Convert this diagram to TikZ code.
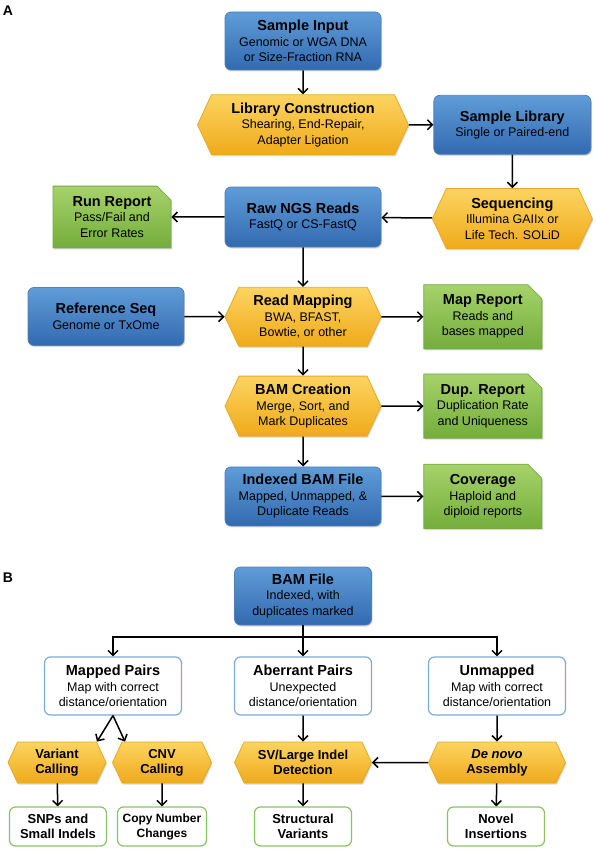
\documentclass[tikz,border=0pt]{standalone}
\usepackage{fontspec}
\setmainfont{Liberation Sans}
\usetikzlibrary{positioning,shapes.symbols,shapes.misc,arrows.meta,shadows}

\definecolor{bluetop}{RGB}{96,156,216}
\definecolor{bluebot}{RGB}{50,106,176}
\definecolor{blueline}{RGB}{78,128,188}
\definecolor{goldtop}{RGB}{252,212,96}
\definecolor{goldbot}{RGB}{240,170,26}
\definecolor{goldline}{RGB}{230,170,40}
\definecolor{greentop}{RGB}{166,210,106}
\definecolor{greenbot}{RGB}{116,174,60}
\definecolor{greenline}{RGB}{116,170,68}
\definecolor{paleblue}{RGB}{128,170,214}
\definecolor{palegreen}{RGB}{138,194,104}

\newcommand{\boxtitle}[1]{{\fontsize{14.5}{15.5}\selectfont\bfseries #1}}

\begin{document}
\begin{tikzpicture}[
	x=1pt, y=-1pt,
	datafile/.style={
		shape=rectangle,
		rounded corners=6pt,
		draw=blueline,
		line width=0.8pt,
		top color=bluetop,
		bottom color=bluebot,
		minimum width=156pt,
		minimum height=58pt,
		align=center,
		drop shadow={opacity=0.3, shadow xshift=1pt, shadow yshift=-1.5pt},
	},
	process/.style={
		shape=signal,
		signal to=east and west,
		signal pointer angle=130,
		draw=goldline,
		line width=0.8pt,
		top color=goldtop,
		bottom color=goldbot,
		minimum width=156pt,
		minimum height=60pt,
		align=center,
		drop shadow={opacity=0.3, shadow xshift=1pt, shadow yshift=-1.5pt},
	},
	smallproc/.style={
		process,
		minimum width=137pt,
		minimum height=41pt,
		font=\fontsize{13}{15}\selectfont\bfseries,
	},
	report/.style={
		shape=chamfered rectangle,
		chamfered rectangle corners=north east,
		chamfered rectangle xsep=7pt,
		chamfered rectangle ysep=7pt,
		draw=greenline,
		line width=0.8pt,
		top color=greentop,
		bottom color=greenbot,
		minimum width=118pt,
		minimum height=59pt,
		align=center,
		drop shadow={opacity=0.3, shadow xshift=1pt, shadow yshift=-1.5pt},
	},
	category/.style={
		shape=rectangle,
		rounded corners=6pt,
		draw=paleblue,
		line width=1.2pt,
		fill=white,
		minimum width=137pt,
		minimum height=58pt,
		align=center,
	},
	result/.style={
		shape=rectangle,
		rounded corners=6pt,
		draw=palegreen,
		line width=1.2pt,
		fill=white,
		minimum width=97pt,
		minimum height=39pt,
		align=center,
		font=\fontsize{13}{15}\selectfont\bfseries,
	},
	panel/.style={font=\fontsize{14}{16}\selectfont\bfseries},
	>={Straight Barb[length=5pt,width=10pt]},
	->,
	line width=1.5pt,
	font=\fontsize{12.5}{15.5}\selectfont,
]
\useasboundingbox (0,0) rectangle (595,853);

% panel A
\node (labelA) [panel] at (8,11) {A};

\node (input) [datafile] at (303,41) {\boxtitle{Sample Input}\\Genomic or WGA DNA\\or Size-Fraction RNA};
\node (libcon) [process, minimum width=211pt, below=24pt of input] {\boxtitle{Library Construction}\\Shearing, End-Repair,\\Adapter Ligation};
\node (samplelib) [datafile, minimum width=157pt, minimum height=59pt, right=24.5pt of libcon] {\boxtitle{Sample Library}\\Single or Paired-end};
\node (seq) [process, minimum width=160pt, below=33.5pt of samplelib] {\boxtitle{Sequencing}\\Illumina GAIIx or\\Life Tech. SOLiD};
\node (rawreads) [datafile, minimum height=60pt] at (303,217) {\boxtitle{Raw NGS Reads}\\FastQ or CS-FastQ};
\node (runreport) [report, minimum height=60pt] at (112,217) {\boxtitle{Run Report}\\Pass/Fail and\\Error Rates};
\node (readmap) [process, minimum height=59pt, below=39.5pt of rawreads] {\boxtitle{Read Mapping}\\BWA, BFAST,\\Bowtie, or other};
\node (refseq) [datafile] at (106,316.5) {\boxtitle{Reference Seq}\\Genome or TxOme};
\node (mapreport) [report, right=42pt of readmap] {\boxtitle{Map Report}\\Reads and\\bases mapped};
\node (bamcreate) [process, below=29pt of readmap] {\boxtitle{BAM Creation}\\Merge, Sort, and\\Mark Duplicates};
\node (dupreport) [report, right=42pt of bamcreate] {\boxtitle{Dup. Report}\\Duplication Rate\\and Uniqueness};
\node (indexed) [datafile, minimum height=59pt, below=30pt of bamcreate] {\boxtitle{Indexed BAM File}\\Mapped, Unmapped, \&\\Duplicate Reads};
\node (coverage) [report, minimum height=60pt, right=42pt of indexed] {\boxtitle{Coverage}\\Haploid and\\diploid reports};

\draw (input) -- (libcon);
\draw (libcon) -- (samplelib);
\draw (samplelib) -- (seq);
\draw (seq) -- (rawreads);
\draw (rawreads) -- (runreport);
\draw (rawreads) -- (readmap);
\draw (refseq) -- (readmap);
\draw (readmap) -- (mapreport);
\draw (readmap) -- (bamcreate);
\draw (bamcreate) -- (dupreport);
\draw (bamcreate) -- (indexed);
\draw (indexed) -- (coverage);

% panel B
\node (labelB) [panel] at (8,578) {B};

\node (bamfile) [datafile, minimum width=137pt] at (303,596) {\boxtitle{BAM File}\\Indexed, with\\duplicates marked};
\coordinate (split) at (303,637);
\node (mapped) [category] at (113,686) {\boxtitle{Mapped Pairs}\\Map with correct\\distance/orientation};
\node (aberrant) [category] at (303,686) {\boxtitle{Aberrant Pairs}\\Unexpected\\distance/orientation};
\node (unmapped) [category] at (497,686) {\boxtitle{Unmapped}\\Map with correct\\distance/orientation};

\node (varcall) [smallproc, minimum width=98pt] at (57,762.5) {Variant\\Calling};
\node (cnvcall) [smallproc, minimum width=99pt] at (162,762.5) {CNV\\Calling};
\node (svdet) [smallproc] at (303,762.5) {SV/Large Indel\\Detection};
\node (denovo) [smallproc] at (497,762.5) {\textit{De novo}\\Assembly};

\node (snps) [result] at (58,826.5) {SNPs and\\Small Indels};
\node (cnvchg) [result, minimum width=89pt, font=\fontsize{12}{15}\selectfont\bfseries] at (162,826.5) {Copy Number\\Changes};
\node (structvar) [result] at (303,826.5) {Structural\\Variants};
\node (novel) [result] at (496,826.5) {Novel\\Insertions};

\draw[-] (bamfile) -- (split);
\draw (split) -| (mapped);
\draw (split) -- (aberrant);
\draw (split) -| (unmapped);
\draw (mapped.south) -- ([xshift=40pt]varcall.north);
\draw (mapped.south) -- ([xshift=-37pt]cnvcall.north);
\draw (aberrant) -- (svdet);
\draw (unmapped) -- (denovo);
\draw (denovo) -- (svdet);
\draw (varcall) -- (snps);
\draw (cnvcall) -- (cnvchg);
\draw (svdet) -- (structvar);
\draw (denovo) -- (novel);
\end{tikzpicture}
\end{document}
